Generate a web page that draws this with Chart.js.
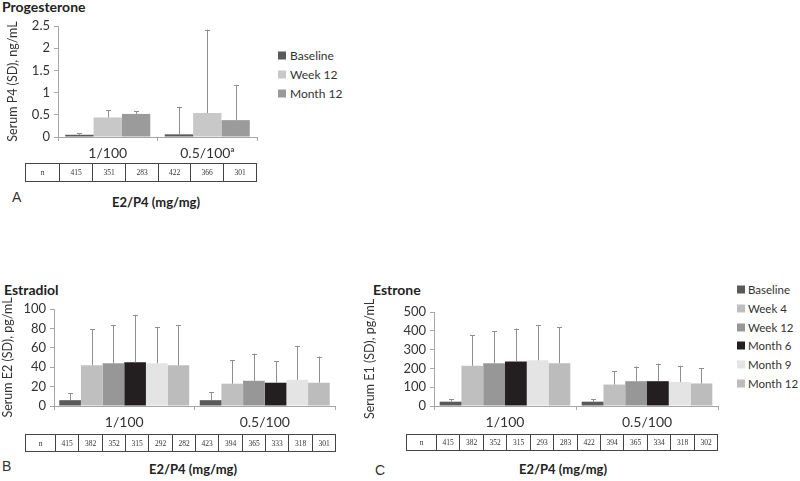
<!DOCTYPE html>
<html>
<head>
<meta charset="utf-8">
<script src="https://cdn.jsdelivr.net/npm/chart.js@4.4.1/dist/chart.umd.min.js"></script>
<style>
  body { margin: 0; background: #fff; font-family: Lato, "Open Sans", sans-serif; color: #333; }
  #page { position: relative; width: 800px; height: 481px; overflow: hidden; }
  canvas, .txt, .legend, .ntable { position: absolute; }
  .title { font-weight: bold; font-size: 14px; color: #222; }
  .xtitle { font-weight: bold; font-size: 13px; color: #222; transform: translate(-50%, -50%); white-space: nowrap; }
  .panel { font-family: "Liberation Sans", Arial, sans-serif; font-size: 14px; color: #333; transform: translateY(-50%); }
  .legend { font-size: 12px; color: #333; }
  .legend div { position: absolute; white-space: nowrap; display: flex; align-items: center; transform: translateY(-50%); }
  .legend span.box { display: inline-block; width: 8px; height: 8px; margin-right: 4px; }
  #legendC { font-size: 11.5px; }
  #legendC span.box { margin-right: 3px; }
  .ntable { display: flex; border: 1px solid #444; box-sizing: border-box; font-family: "Liberation Serif", serif; font-size: 7.5px; color: #333; will-change: transform; }
  .ntable div { box-sizing: border-box; border-left: 1px solid #444; display: flex; align-items: center; justify-content: center; }
  .ntable div:first-child { border-left: none; }
</style>
</head>
<body>
<div id="page">
  <div class="txt title" style="left:2px; top:-2px;">Progesterone</div>
  <canvas id="chartA" width="270" height="170" style="left:0; top:0;"></canvas>
  <div class="legend" id="legendA" style="left:278px; top:0;"></div>
  <div class="ntable" id="tableA" style="left:25px; top:163px; width:232px; height:19px;"></div>
  <div class="txt panel" style="left:12px; top:197px;">A</div>
  <div class="txt xtitle" style="left:156px; top:202px;">E2/P4 (mg/mg)</div>

  <div class="txt title" style="left:4px; top:281px;">Estradiol</div>
  <canvas id="chartB" width="345" height="150" style="left:0; top:280px;"></canvas>
  <div class="ntable" id="tableB" style="left:25px; top:434px; width:311px; height:18px;"></div>
  <div class="txt panel" style="left:2px; top:466px;">B</div>
  <div class="txt xtitle" style="left:193px; top:469px;">E2/P4 (mg/mg)</div>

  <div class="txt title" style="left:373px; top:281px;">Estrone</div>
  <canvas id="chartC" width="360" height="150" style="left:362px; top:280px;"></canvas>
  <div class="legend" id="legendC" style="left:737px; top:0;"></div>
  <div class="ntable" id="tableC" style="left:406px; top:434px; width:312px; height:17px;"></div>
  <div class="txt panel" style="left:375px; top:470px;">C</div>
  <div class="txt xtitle" style="left:563px; top:469px;">E2/P4 (mg/mg)</div>
</div>
<script>
// Dose groups on the x axis
const categoriesA = ['1/100', '0.5/100\u1d43'];
const categoriesBC = ['1/100', '0.5/100'];

// Visits
const visitsA = ['Baseline', 'Week 12', 'Month 12'];
const visitsBC = ['Baseline', 'Week 4', 'Week 12', 'Month 6', 'Month 9', 'Month 12'];

// Serum P4, ng/mL (mean, SD) per visit, [1/100, 0.5/100]
const p4Baseline = [0.05, 0.06];
const p4Week12 = [0.44, 0.54];
const p4Month12 = [0.52, 0.38];
const p4BaselineSd = [0.03, 0.62];
const p4Week12Sd = [0.16, 1.88];
const p4Month12Sd = [0.06, 0.78];

// Serum E2, pg/mL
const e2Baseline = [6, 6];
const e2Week4 = [42, 23];
const e2Week12 = [44, 26];
const e2Month6 = [45, 24];
const e2Month9 = [44, 27];
const e2Month12 = [42, 24];
const e2BaselineSd = [7, 8];
const e2Week4Sd = [37, 24];
const e2Week12Sd = [39, 28];
const e2Month6Sd = [49, 22];
const e2Month9Sd = [37, 35];
const e2Month12Sd = [41, 27];

// Serum E1, pg/mL
const e1Baseline = [23, 23];
const e1Week4 = [214, 114];
const e1Week12 = [228, 132];
const e1Month6 = [237, 132];
const e1Month9 = [243, 128];
const e1Month12 = [228, 120];
const e1BaselineSd = [14, 13];
const e1Week4Sd = [162, 73];
const e1Week12Sd = [170, 78];
const e1Month6Sd = [175, 93];
const e1Month9Sd = [187, 86];
const e1Month12Sd = [191, 80];

// n per bar, left to right
const nA = [415, 351, 283, 422, 366, 301];
const nB = [415, 382, 352, 315, 292, 282, 423, 394, 365, 333, 318, 301];
const nC = [415, 382, 352, 315, 293, 283, 422, 394, 365, 334, 318, 302];

const colorsA = ['#595959', '#c8c8c8', '#9b9b9b'];
const colorsBC = ['#595959', '#bfbfbf', '#979797', '#231f20', '#e4e4e4', '#bcbcbc'];

const FONT = 'Lato, "Open Sans", sans-serif';
const AXIS = '#a6a6a6';

// draws the upper SD whisker of each bar
const errorBars = {
    id: 'errorBars',
    afterDatasetsDraw(chart) {
        const ctx = chart.ctx;
        const y = chart.scales.y;
        chart.data.datasets.forEach((ds, i) => {
            chart.getDatasetMeta(i).data.forEach((bar, j) => {
                const top = y.getPixelForValue(ds.data[j] + ds.sd[j]);
                ctx.save();
                ctx.strokeStyle = '#8f8f8f';
                ctx.lineWidth = 1;
                ctx.beginPath();
                ctx.moveTo(Math.round(bar.x) + 0.5, bar.y);
                ctx.lineTo(Math.round(bar.x) + 0.5, top);
                ctx.moveTo(Math.round(bar.x) - 2, Math.round(top) + 0.5);
                ctx.lineTo(Math.round(bar.x) + 3, Math.round(top) + 0.5);
                ctx.stroke();
                ctx.restore();
            });
        });
    }
};

function barChart(id, cats, names, means, sds, colors, yMax, yStep, yTitle, pad, yWidth, xHeight, catPct) {
    const ctx = document.getElementById(id);
    return new Chart(ctx, {
        type: 'bar',
        data: {
            labels: cats,
            datasets: names.map((name, i) => ({
                label: name,
                data: means[i],
                sd: sds[i],
                backgroundColor: colors[i],
                barPercentage: 1,
                categoryPercentage: catPct
            }))
        },
        options: {
            responsive: false,
            animation: false,
            layout: { padding: pad },
            plugins: { legend: { display: false }, tooltip: { enabled: false } },
            scales: {
                x: {
                    grid: { drawOnChartArea: false, tickLength: 4, color: AXIS },
                    border: { color: AXIS },
                    ticks: { color: '#333', padding: 4, font: { family: FONT, size: 14 } },
                    afterFit(scale) { scale.height = xHeight; }
                },
                y: {
                    min: 0,
                    max: yMax,
                    ticks: {
                        stepSize: yStep, color: '#333', padding: 4,
                        font: { family: FONT, size: 13 },
                        callback: v => String(+v.toFixed(2))
                    },
                    grid: { drawOnChartArea: false, tickLength: 4, color: AXIS },
                    border: { color: AXIS },
                    title: { display: true, text: yTitle, color: '#333', padding: 0, font: { family: FONT, size: 12.5 } },
                    afterFit(scale) { scale.width = yWidth; }
                }
            }
        },
        plugins: [errorBars]
    });
}

function buildLegend(id, names, colors, ys) {
    const el = document.getElementById(id);
    names.forEach((name, i) => {
        const row = document.createElement('div');
        row.style.top = ys[i] + 'px';
        row.innerHTML = '<span class="box" style="background:' + colors[i] + '"></span>' + name;
        el.appendChild(row);
    });
}

function buildTable(id, counts, firstW) {
    const el = document.getElementById(id);
    const inner = el.clientWidth - firstW;
    const first = document.createElement('div');
    first.style.width = firstW + 'px';
    first.textContent = 'n';
    el.appendChild(first);
    let used = 0;
    counts.forEach((c, i) => {
        // integer cell widths so the tiny digits stay crisp
        const edge = Math.round(inner * (i + 1) / counts.length);
        const cell = document.createElement('div');
        cell.style.width = (edge - used) + 'px';
        used = edge;
        cell.textContent = c;
        el.appendChild(cell);
    });
}

barChart('chartA', categoriesA, visitsA,
    [p4Baseline, p4Week12, p4Month12],
    [p4BaselineSd, p4Week12Sd, p4Month12Sd],
    colorsA, 2.5, 0.5, 'Serum P4 (SD), ng/mL',
    { left: 5, top: 26, right: 13, bottom: 0 }, 53, 33, 0.855);

barChart('chartB', categoriesBC, visitsBC,
    [e2Baseline, e2Week4, e2Week12, e2Month6, e2Month9, e2Month12],
    [e2BaselineSd, e2Week4Sd, e2Week12Sd, e2Month6Sd, e2Month9Sd, e2Month12Sd],
    colorsBC, 100, 20, 'Serum E2 (SD), pg/mL',
    { left: 0, top: 29, right: 10, bottom: 0 }, 54, 24, 0.925);

barChart('chartC', categoriesBC, visitsBC,
    [e1Baseline, e1Week4, e1Week12, e1Month6, e1Month9, e1Month12],
    [e1BaselineSd, e1Week4Sd, e1Week12Sd, e1Month6Sd, e1Month9Sd, e1Month12Sd],
    colorsBC, 500, 100, 'Serum E1 (SD), pg/mL',
    { left: 0, top: 32, right: 4, bottom: 0 }, 72, 24, 0.92);

buildLegend('legendA', visitsA, colorsA, [55, 74, 93]);
buildLegend('legendC', visitsBC, colorsBC, [289, 308, 327, 345, 364, 383]);

buildTable('tableA', nA, 33);
buildTable('tableB', nB, 29);
buildTable('tableC', nC, 29);
</script>
</body>
</html>
